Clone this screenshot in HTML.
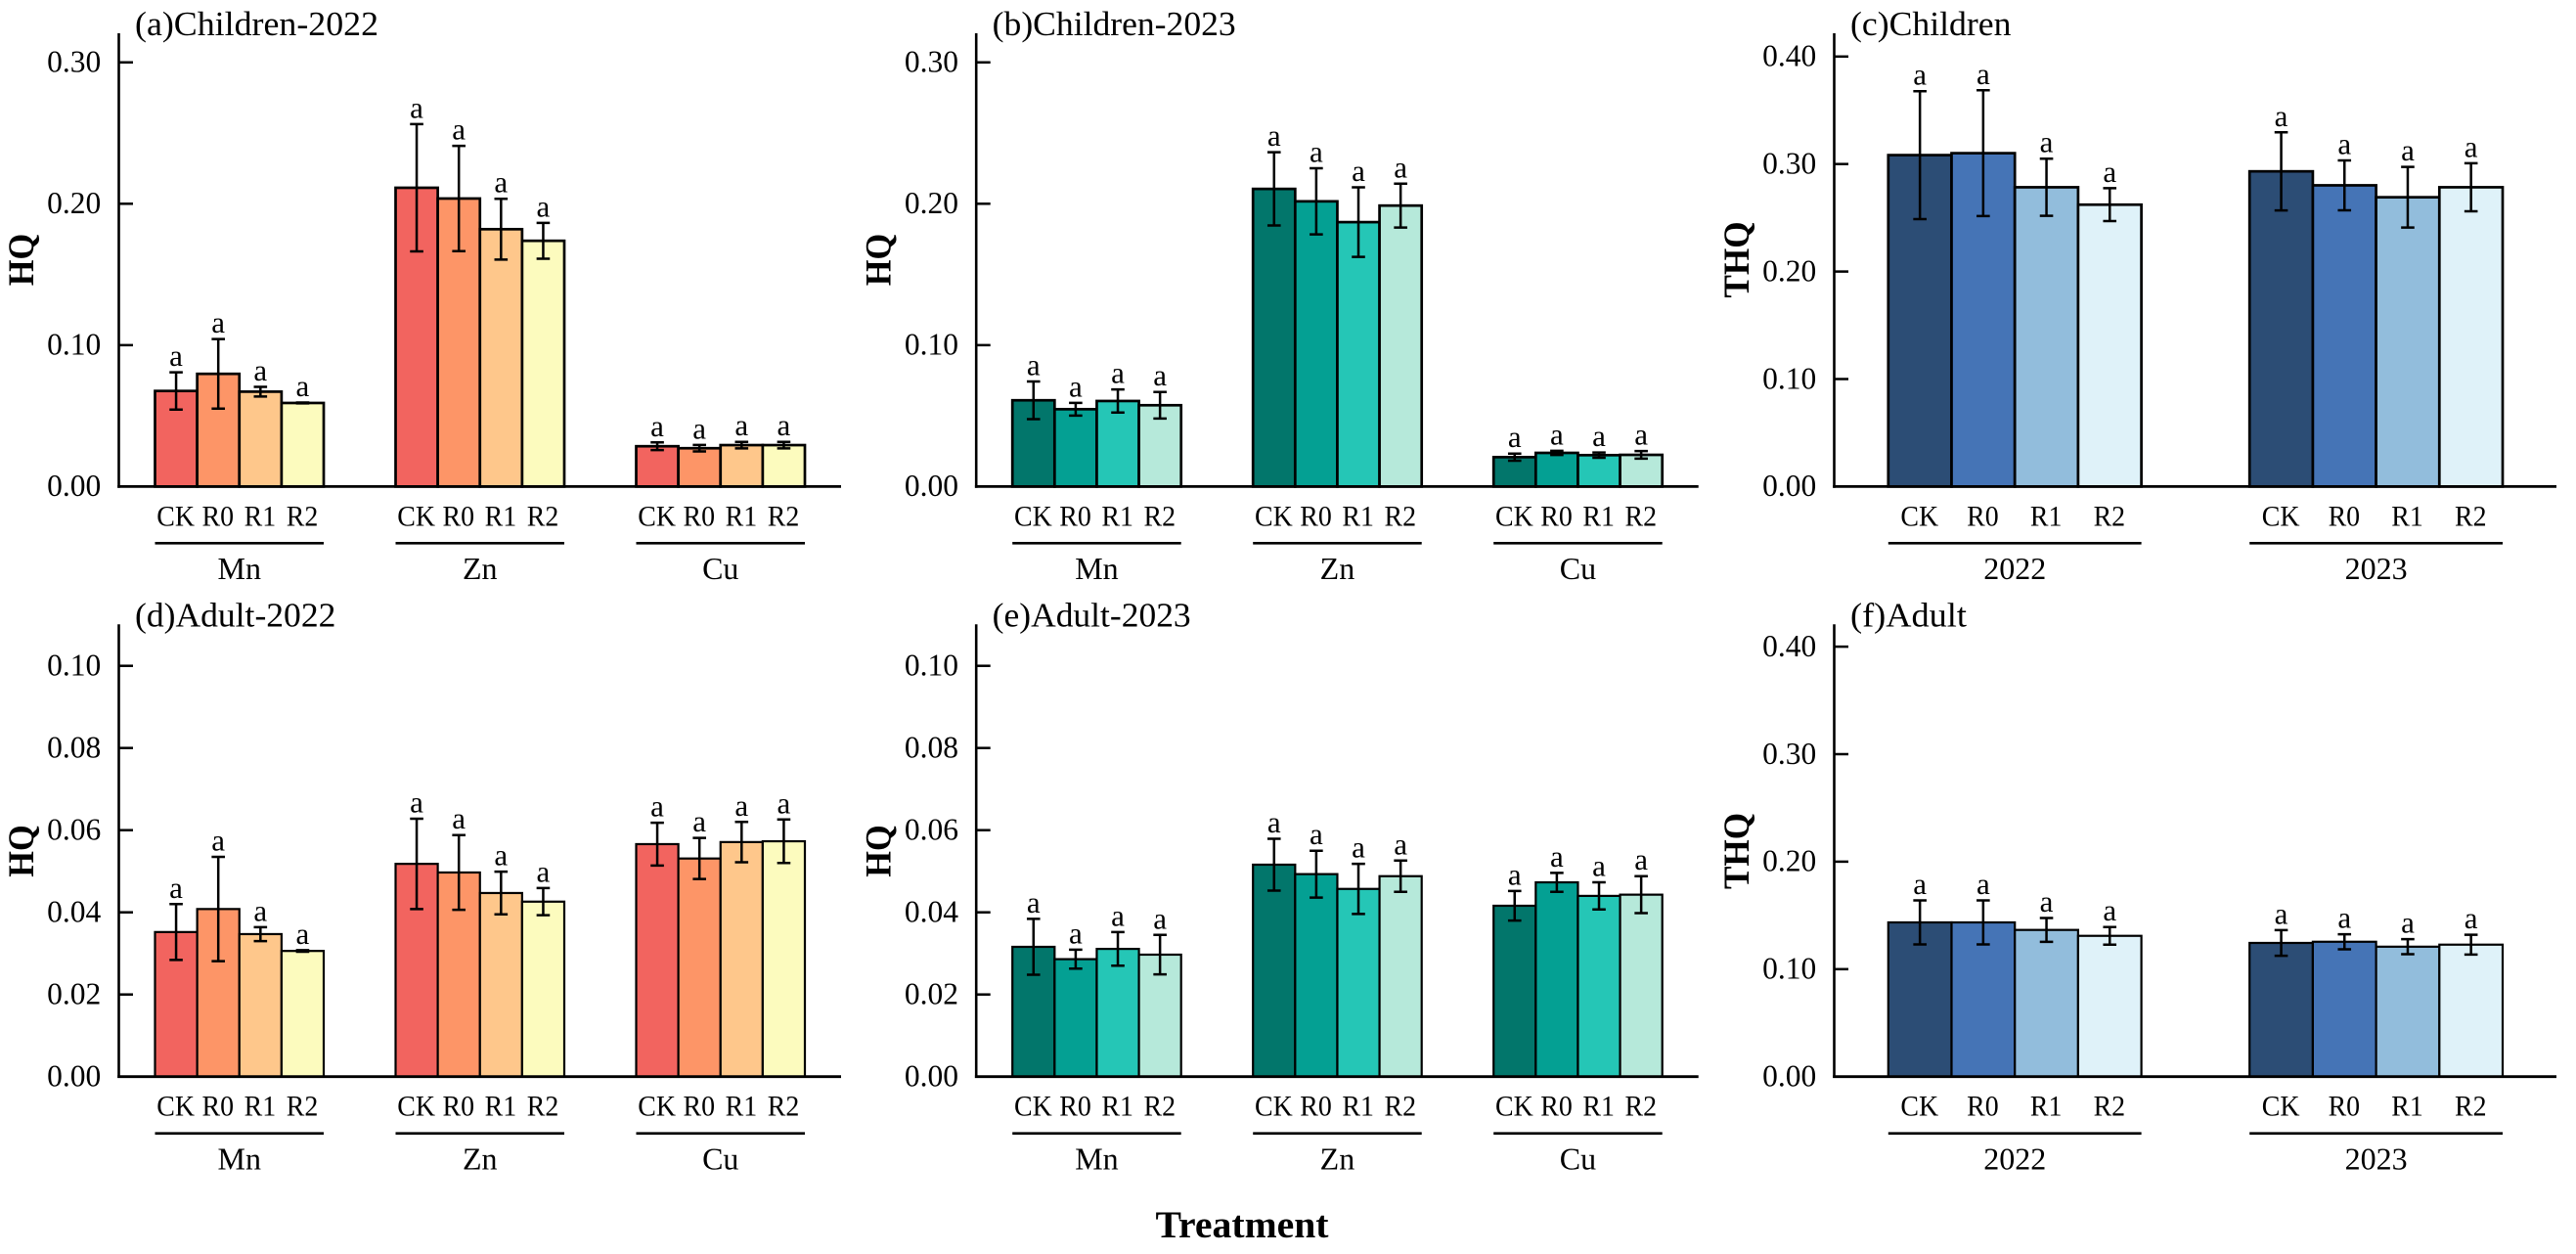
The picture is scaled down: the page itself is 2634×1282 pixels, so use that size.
<!DOCTYPE html>
<html>
<head>
<meta charset="utf-8">
<title>HQ and THQ bar charts</title>
<style>
html,body{margin:0;padding:0;background:#fff;}
svg{display:block;}
text{font-family:"Liberation Serif","Times New Roman",serif;fill:#000;}
</style>
</head>
<body>
<svg id="figure" xmlns="http://www.w3.org/2000/svg" width="2634" height="1282" viewBox="0 0 2634 1282">
<rect x="0" y="0" width="2634" height="1282" fill="#ffffff"/>
<text x="1270" y="1265" font-size="39" font-weight="bold" text-anchor="middle" textLength="177" lengthAdjust="spacingAndGlyphs">Treatment</text>
</svg>
<script>
// Categories and tick labels
const metals = ['Mn', 'Zn', 'Cu'];
const years = ['2022', '2023'];
const treatments = ['CK', 'R0', 'R1', 'R2'];
const hqChildTicks = [0, 0.1, 0.2, 0.3];
const hqAdultTicks = [0, 0.02, 0.04, 0.06, 0.08, 0.1];
const thqTicks = [0, 0.1, 0.2, 0.3, 0.4];

// Colours per treatment
const warmColors = ['#F2645F', '#FD9567', '#FEC78B', '#FCFBBE'];
const tealColors = ['#02766B', '#04A093', '#25C6B6', '#B6E9DA'];
const blueColors = ['#2C4D75', '#4574B6', '#92BDDC', '#DFF2F9'];

// (a) Children-2022
const childHq2022Values = [0.0676, 0.0797, 0.0671, 0.0591, 0.2113, 0.2037, 0.182, 0.1738, 0.0285, 0.0271, 0.0293, 0.0293];
const childHq2022Errors = [0.0132, 0.0246, 0.0034, 0.0003, 0.045, 0.0372, 0.0215, 0.0127, 0.0027, 0.0023, 0.0023, 0.0023];
// (b) Children-2023
const childHq2023Values = [0.061, 0.0547, 0.0605, 0.0575, 0.2105, 0.2017, 0.187, 0.1987, 0.0208, 0.0238, 0.0222, 0.0224];
const childHq2023Errors = [0.0133, 0.0045, 0.0082, 0.0094, 0.0259, 0.0234, 0.0246, 0.0155, 0.0025, 0.0015, 0.0019, 0.0027];
// (c) Children THQ
const childThqValues = [0.3083, 0.3101, 0.2784, 0.2622, 0.2932, 0.2802, 0.2691, 0.2784];
const childThqErrors = [0.0595, 0.0585, 0.0266, 0.0153, 0.0363, 0.0232, 0.0282, 0.0223];
// (d) Adult-2022
const adultHq2022Values = [0.0352, 0.0408, 0.0347, 0.0306, 0.0518, 0.0497, 0.0447, 0.0426, 0.0566, 0.0531, 0.0571, 0.0573];
const adultHq2022Errors = [0.0068, 0.0127, 0.0017, 0.0002, 0.011, 0.0091, 0.0052, 0.0033, 0.0052, 0.005, 0.0049, 0.0053];
// (e) Adult-2023
const adultHq2023Values = [0.0316, 0.0286, 0.0311, 0.0297, 0.0516, 0.0493, 0.0457, 0.0488, 0.0416, 0.0473, 0.044, 0.0443];
const adultHq2023Errors = [0.0068, 0.0023, 0.0041, 0.0048, 0.0063, 0.0057, 0.0061, 0.0038, 0.0036, 0.0023, 0.0033, 0.0045];
// (f) Adult THQ
const adultThqValues = [0.1435, 0.1435, 0.1365, 0.131, 0.1244, 0.1255, 0.1209, 0.1228];
const adultThqErrors = [0.0205, 0.0205, 0.0111, 0.0082, 0.0119, 0.007, 0.007, 0.0092];

const svg = document.getElementById('figure');
const NS = 'http://www.w3.org/2000/svg';

function make(tag, attrs, parent) {
  const el = document.createElementNS(NS, tag);
  for (const k in attrs) el.setAttribute(k, attrs[k]);
  parent.appendChild(el);
  return el;
}

function slug(s) {
  return s.replace(/[^A-Za-z0-9]+/g, '-').replace(/^-|-$/g, '').toLowerCase();
}

function drawPanel(p) {
  const g = make('g', {}, svg);
  
  

  const axisX = p.offset + 121.5;
  const rightX = p.offset + 860;
  const yScale = function (v) { return p.y0 - v * p.pxPerUnit; };
  const barW = p.groupWidth / treatments.length;
  const groupX = function (i) { return p.offset + p.firstX + i * p.groupStep; };
  const barX = function (i, j) { return groupX(i) + j * barW; };

  // Bars and error bars
  p.groups.forEach(function (groupName, i) {
    treatments.forEach(function (tr, j) {
      const idx = i * treatments.length + j;
      const v = p.values[idx];
      const x = barX(i, j);
      const bar = make('rect', {
        x: x, y: yScale(v), width: barW, height: yScale(0) - yScale(v),
        fill: p.colors[j], stroke: '#000', 'stroke-width': p.barStroke
      }, g);
      
      
    });
  });
  p.groups.forEach(function (groupName, i) {
    treatments.forEach(function (tr, j) {
      const idx = i * treatments.length + j;
      const v = p.values[idx];
      const e = p.errors[idx];
      const cx = barX(i, j) + barW / 2;
      const yTop = yScale(v + e);
      const yBot = yScale(v - e);
      const err = make('path', {
        d: 'M' + cx + ' ' + yTop + 'V' + yBot + 'M' + (cx - 6.8) + ' ' + yTop + 'H' + (cx + 6.8) + 'M' + (cx - 6.8) + ' ' + yBot + 'H' + (cx + 6.8),
        fill: 'none', stroke: '#000', 'stroke-width': 2.5
      }, g);
      
      
      const sig = make('text', { x: cx, y: yTop - 6.5, 'font-size': 31, 'text-anchor': 'middle' }, g);
      sig.textContent = 'a';
      
      

      const lab = make('text', {
        x: 0, y: 0, 'font-size': 30, 'text-anchor': 'middle',
        transform: 'translate(' + (cx - 0.4) + ' ' + p.labelY + ') scale(0.93 1)'
      }, g);
      lab.textContent = tr;
      
      
    });

    const rule = make('line', {
      x1: groupX(i), x2: groupX(i) + p.groupWidth, y1: p.ruleY, y2: p.ruleY,
      stroke: '#000', 'stroke-width': 2.6
    }, g);
    
    

    const groupLabel = make('text', { x: groupX(i) + p.groupWidth / 2, y: p.groupY, 'font-size': 32, 'text-anchor': 'middle' }, g);
    groupLabel.textContent = groupName;
    
    
  });

  // Axes
  const yAxis = make('line', { x1: axisX, x2: axisX, y1: p.axisTop, y2: p.y0 + 1.3, stroke: '#000', 'stroke-width': 2.6 }, g);
  
  
  const xAxis = make('line', { x1: axisX - 1.3, x2: rightX, y1: p.y0, y2: p.y0, stroke: '#000', 'stroke-width': 2.8 }, g);
  
  

  p.ticks.forEach(function (t) {
    const y = yScale(t);
    if (t !== 0) {
      const tick = make('line', { x1: axisX, x2: axisX + 14.5, y1: y, y2: y, stroke: '#000', 'stroke-width': 2.5 }, g);
      
      
    }
    const tl = make('text', { x: axisX - 18.2, y: y + 9.8, 'font-size': 31.5, 'text-anchor': 'end' }, g);
    tl.textContent = t.toFixed(2);
    
    
  });

  const yTitle = make('text', {
    x: 0, y: 0, 'font-size': 37, 'font-weight': 'bold', 'text-anchor': 'middle',
    textLength: p.yLabel.length === 2 ? 53.4 : 78, lengthAdjust: 'spacingAndGlyphs',
    transform: 'translate(' + (p.offset + p.yTitleX) + ' ' + p.yTitleY + ') rotate(-90)'
  }, g);
  yTitle.textContent = p.yLabel;
  
  

  const title = make('text', {
    x: p.offset + 138, y: p.titleY, 'font-size': 35,
    textLength: p.titleWidth, lengthAdjust: 'spacingAndGlyphs'
  }, g);
  title.textContent = p.title;
  
  
}

const topRow = { y0: 497.4, axisTop: 34, labelY: 537.3, ruleY: 555.3, groupY: 592, titleY: 36, barStroke: 2.7, yTitleY: 265.5 };
const bottomRow = { y0: 1100.7, axisTop: 638.3, labelY: 1140.7, ruleY: 1158.7, groupY: 1195.7, titleY: 640.7, barStroke: 2.2, yTitleY: 870 };
const metalLayout = { firstX: 158.5, groupStep: 246, groupWidth: 172.5 };
const yearLayout = { firstX: 176.8, groupStep: 369.4, groupWidth: 258.8 };

drawPanel(Object.assign({}, topRow, metalLayout, { offset: 0, title: '(a)Children-2022', titleWidth: 249, yLabel: 'HQ', yTitleX: 34, groups: metals, values: childHq2022Values, errors: childHq2022Errors, colors: warmColors, ticks: hqChildTicks, pxPerUnit: 1445.5 }));
drawPanel(Object.assign({}, topRow, metalLayout, { offset: 876.7, title: '(b)Children-2023', titleWidth: 249, yLabel: 'HQ', yTitleX: 34, groups: metals, values: childHq2023Values, errors: childHq2023Errors, colors: tealColors, ticks: hqChildTicks, pxPerUnit: 1445.5 }));
drawPanel(Object.assign({}, topRow, yearLayout, { offset: 1754, title: '(c)Children', titleWidth: 164.4, yLabel: 'THQ', yTitleX: 34, groups: years, values: childThqValues, errors: childThqErrors, colors: blueColors, ticks: thqTicks, pxPerUnit: 1099 }));
drawPanel(Object.assign({}, bottomRow, metalLayout, { offset: 0, title: '(d)Adult-2022', titleWidth: 205.4, yLabel: 'HQ', yTitleX: 34, groups: metals, values: adultHq2022Values, errors: adultHq2022Errors, colors: warmColors, ticks: hqAdultTicks, pxPerUnit: 4200 }));
drawPanel(Object.assign({}, bottomRow, metalLayout, { offset: 876.7, title: '(e)Adult-2023', titleWidth: 203, yLabel: 'HQ', yTitleX: 34, groups: metals, values: adultHq2023Values, errors: adultHq2023Errors, colors: tealColors, ticks: hqAdultTicks, pxPerUnit: 4200 }));
drawPanel(Object.assign({}, bottomRow, yearLayout, { offset: 1754, title: '(f)Adult', titleWidth: 119, yLabel: 'THQ', yTitleX: 34, groups: years, values: adultThqValues, errors: adultThqErrors, colors: blueColors, ticks: thqTicks, pxPerUnit: 1099 }));
</script>
</body>
</html>
